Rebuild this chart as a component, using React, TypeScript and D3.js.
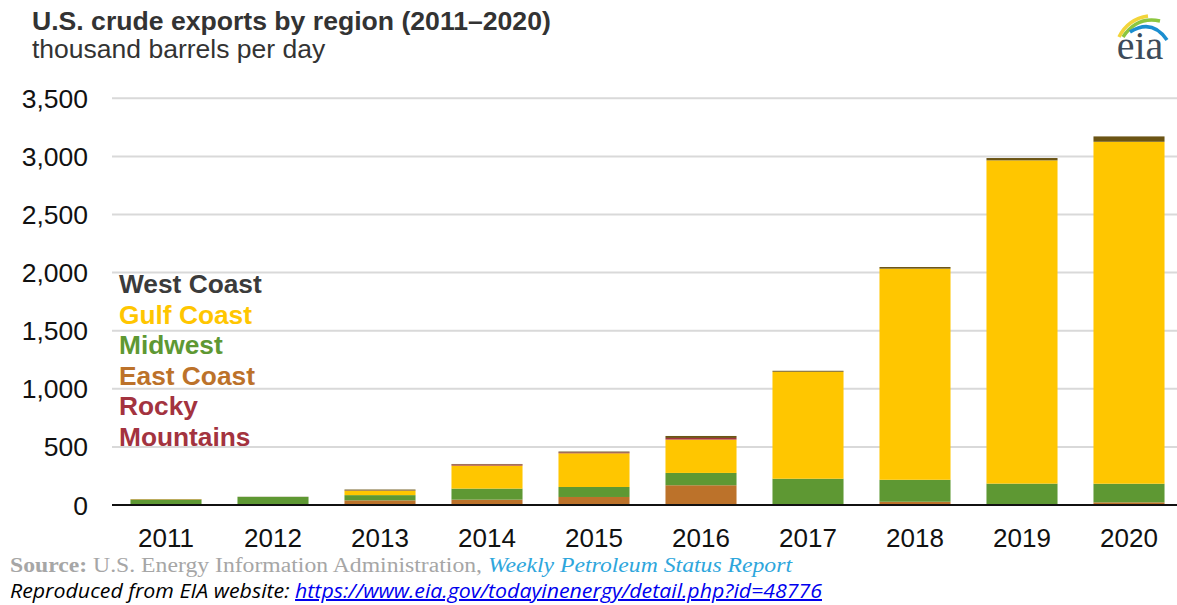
import React from 'react';
import { scaleBand, scaleLinear, stack } from 'd3';

const years = ['2011', '2012', '2013', '2014', '2015', '2016', '2017', '2018', '2019', '2020'];
const eastCoast = [5, 2, 40, 46, 69, 170, 2, 28, 3, 23];
const midwest = [40, 68, 45, 95, 86, 106, 224, 189, 181, 160];
const gulfCoast = [3, 0, 38, 198, 290, 287, 921, 1817, 2782, 2943];
const rockyMountains = [0, 0, 2, 10, 8, 14, 0, 0, 0, 0];
const westCoast = [3, 1, 8, 4, 7, 17, 8, 14, 20, 46];
const yTicks = [0, 500, 1000, 1500, 2000, 2500, 3000, 3500];

const seriesKeys = ['East Coast', 'Midwest', 'Gulf Coast', 'Rocky Mountains', 'West Coast'];
const barColors: Record<string, string> = {
  'East Coast': '#bc722a',
  Midwest: '#5e9833',
  'Gulf Coast': '#ffc600',
  'Rocky Mountains': '#a3333f',
  'West Coast': '#6b5414',
};

// legend reads top-down, matching the stack order from the top
const legendLines = [
  { text: 'West Coast', color: '#3b3b3b' },
  { text: 'Gulf Coast', color: '#ffc600' },
  { text: 'Midwest', color: '#5e9833' },
  { text: 'East Coast', color: '#bc722a' },
  { text: 'Rocky', color: '#a3333f' },
  { text: 'Mountains', color: '#a3333f' },
];

const rows = years.map((year, i) => ({
  year,
  'East Coast': eastCoast[i],
  Midwest: midwest[i],
  'Gulf Coast': gulfCoast[i],
  'Rocky Mountains': rockyMountains[i],
  'West Coast': westCoast[i],
}));

const font = 'Arial, "Liberation Sans", Helvetica, sans-serif';

const App = () => {
  const width = 1177;
  const height = 605;

  const x = scaleBand<string>()
    .domain(years)
    .range([112.5, 1182.5])
    .paddingInner(0.336)
    .paddingOuter(0.168);

  const y = scaleLinear().domain([0, 3500]).range([505, 98.3]);

  const layers = stack<any>().keys(seriesKeys)(rows);

  return (
    <svg
      width={width}
      height={height}
      style={{ position: 'absolute', left: 0, top: 0, background: '#fff' }}
      fontFamily={font}
    >
      {/* title */}
      <text x={32} y={30} fontSize={26.6} fontWeight='bold' fill='#333'>
        U.S. crude exports by region (2011–2020)
      </text>
      <text x={32} y={58} fontSize={26.5} fill='#333'>
        thousand barrels per day
      </text>

      {/* eia logo */}
      <g>
        <path d='M1119,37 Q1128,19 1148,16' fill='none' stroke='#f2d43a' strokeWidth={3.5} />
        <path d='M1123,37 Q1137,16 1160,21' fill='none' stroke='#8cc63f' strokeWidth={3.5} />
        <path d='M1130,32 Q1152,18 1167,40' fill='none' stroke='#1b8ed0' strokeWidth={3.5} />
        <text x={1140} y={59} fontSize={40} textAnchor='middle' fill='#3d4b5a' fontFamily='"Liberation Serif", "DejaVu Serif", serif'>
          eia
        </text>
      </g>

      {/* grid */}
      {yTicks.map((t) => (
        <g key={t}>
          {t > 0 && <line x1={112} x2={1177} y1={y(t)} y2={y(t)} stroke='#d9d9d9' strokeWidth={2} />}
          <text x={88} y={y(t)} dy='0.36em' textAnchor='end' fontSize={26.5} fill='#111'>
            {t.toLocaleString('en-US')}
          </text>
        </g>
      ))}

      {/* bars */}
      {layers.map((layer) => (
        <g key={layer.key} fill={barColors[layer.key]}>
          {layer.map((d, i) => {
            const h = y(d[0]) - y(d[1]);
            if (h <= 0) return null;
            return <rect key={years[i]} x={x(years[i])} y={y(d[1])} width={x.bandwidth()} height={h} />;
          })}
        </g>
      ))}

      {/* axis line */}
      <line x1={112} x2={1177} y1={y(0)} y2={y(0)} stroke='#111' strokeWidth={2} />

      {years.map((yr) => (
        <text key={yr} x={(x(yr) ?? 0) + x.bandwidth() / 2} y={547} textAnchor='middle' fontSize={26} fill='#111'>
          {yr}
        </text>
      ))}

      {/* legend */}
      {legendLines.map((l, i) => (
        <text key={l.text} x={119} y={293 + i * 30.6} fontSize={26.3} fontWeight='bold' fill={l.color}>
          {l.text}
        </text>
      ))}

      {/* footer */}
      <text
        x={10}
        y={572}
        fontSize={20}
        fontFamily='"Liberation Serif", "DejaVu Serif", serif'
        textLength={782}
        lengthAdjust='spacingAndGlyphs'
      >
        <tspan fontWeight='bold' fill='#a6a6a6'>Source: </tspan>
        <tspan fill='#a6a6a6'>U.S. Energy Information Administration, </tspan>
        <tspan fill='#2ea6dc' fontStyle='italic'>Weekly Petroleum Status Report</tspan>
      </text>
      <text
        x={10}
        y={598}
        fontSize={20}
        fontStyle='italic'
        fontFamily='"Liberation Sans Narrow", "Open Sans", sans-serif'
        textLength={812}
        lengthAdjust='spacingAndGlyphs'
      >
        <tspan fill='#000'>Reproduced from EIA website: </tspan>
        <tspan fill='#0000ee' textDecoration='underline'>https://www.eia.gov/todayinenergy/detail.php?id=48776</tspan>
      </text>
    </svg>
  );
};

export default App;
